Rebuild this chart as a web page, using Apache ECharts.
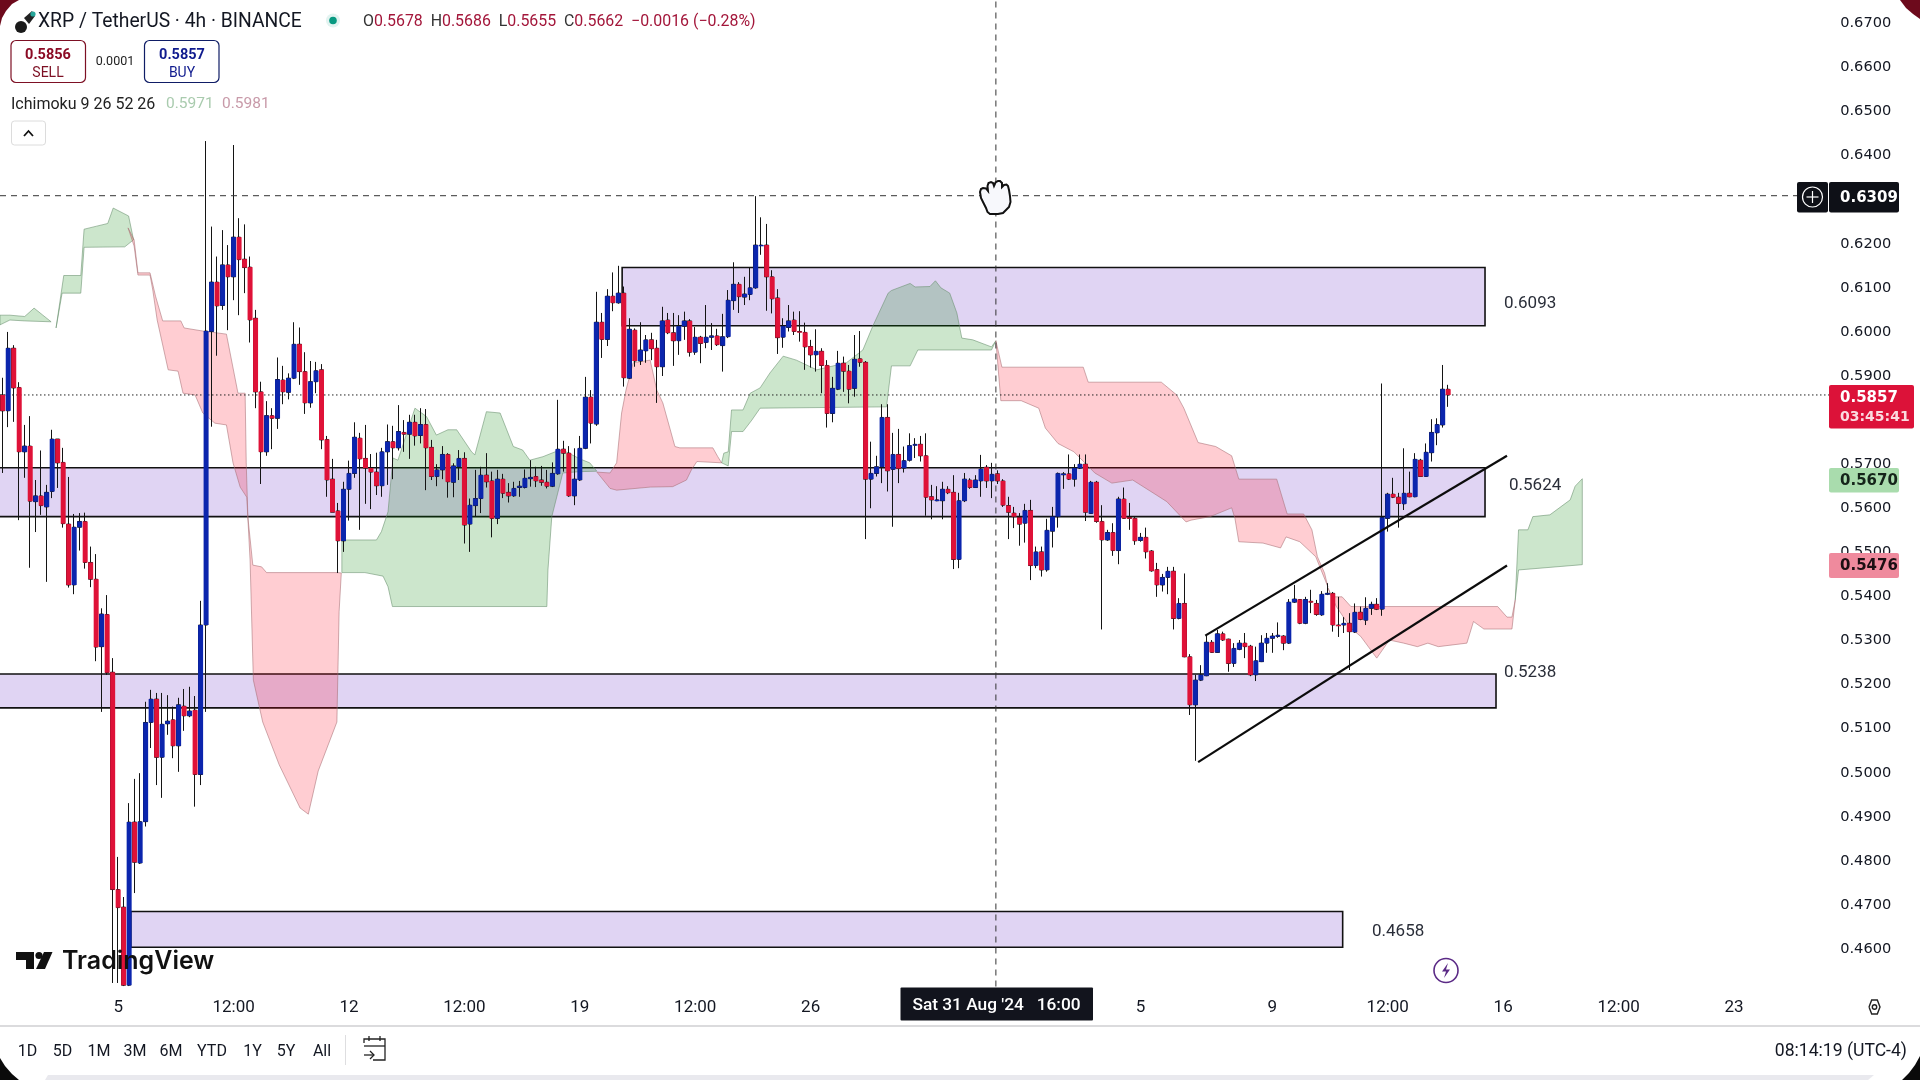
<!DOCTYPE html>
<html><head><meta charset="utf-8"><title>XRP / TetherUS 4h</title>
<style>html,body{margin:0;padding:0;background:#fff;overflow:hidden}#c{width:1920px;height:1080px}</style>
<script src="https://cdn.jsdelivr.net/npm/echarts@6/dist/echarts.min.js"></script></head><body><div id="c"></div>
<script>
const opens=[0.5857,0.5821,0.5963,0.5874,0.5728,0.5741,0.5615,0.5628,0.5603,0.5638,0.5757,0.5704,0.5564,0.5426,0.5557,0.5570,0.5477,0.5439,0.5286,0.5359,0.5228,0.4735,0.4695,0.4518,0.4888,0.4795,0.4889,0.5114,0.5167,0.5035,0.5111,0.5120,0.5061,0.5151,0.5129,0.5142,0.4996,0.5335,0.6001,0.6113,0.6060,0.6152,0.6125,0.6215,0.6165,0.6147,0.6031,0.5864,0.5728,0.5810,0.5804,0.5891,0.5863,0.5895,0.5972,0.5910,0.5839,0.5887,0.5914,0.5756,0.5666,0.5594,0.5526,0.5643,0.5679,0.5759,0.5713,0.5691,0.5682,0.5651,0.5728,0.5751,0.5737,0.5772,0.5768,0.5795,0.5765,0.5790,0.5738,0.5672,0.5687,0.5722,0.5659,0.5694,0.5713,0.5564,0.5606,0.5622,0.5675,0.5662,0.5577,0.5666,0.5636,0.5628,0.5647,0.5647,0.5667,0.5672,0.5664,0.5659,0.5650,0.5678,0.5734,0.5725,0.5628,0.5664,0.5736,0.5852,0.5791,0.6022,0.5983,0.6081,0.6066,0.6088,0.5895,0.6004,0.5934,0.5957,0.5982,0.5963,0.5921,0.6027,0.5998,0.5980,0.6013,0.6025,0.5954,0.5988,0.5976,0.5988,0.5991,0.5969,0.5989,0.6071,0.6108,0.6079,0.6085,0.6100,0.6196,0.6197,0.6125,0.6077,0.5988,0.6010,0.6027,0.6001,0.5999,0.5967,0.5948,0.5956,0.5924,0.5815,0.5870,0.5929,0.5911,0.5872,0.5939,0.5931,0.5666,0.5679,0.5694,0.5806,0.5688,0.5722,0.5691,0.5709,0.5743,0.5745,0.5719,0.5626,0.5617,0.5617,0.5643,0.5636,0.5484,0.5617,0.5664,0.5647,0.5662,0.5693,0.5662,0.5678,0.5662,0.5606,0.5589,0.5579,0.5566,0.5595,0.5470,0.5501,0.5460,0.5548,0.5581,0.5676,0.5678,0.5666,0.5691,0.5700,0.5588,0.5659,0.5570,0.5528,0.5545,0.5504,0.5621,0.5579,0.5577,0.5527,0.5534,0.5503,0.5461,0.5426,0.5443,0.5457,0.5350,0.5384,0.5263,0.5154,0.5210,0.5220,0.5296,0.5273,0.5315,0.5303,0.5248,0.5280,0.5294,0.5287,0.5222,0.5252,0.5294,0.5305,0.5309,0.5310,0.5294,0.5387,0.5393,0.5339,0.5389,0.5384,0.5358,0.5405,0.5407,0.5335,0.5335,0.5339,0.5319,0.5364,0.5346,0.5373,0.5382,0.5371,0.5577,0.5632,0.5625,0.5610,0.5634,0.5626,0.5709,0.5672,0.5726,0.5771,0.5789,0.5870];
const closes=[0.5821,0.5963,0.5873,0.5728,0.5741,0.5616,0.5628,0.5606,0.5636,0.5757,0.5703,0.5565,0.5426,0.5557,0.5570,0.5477,0.5439,0.5285,0.5360,0.5227,0.4735,0.4694,0.4518,0.4888,0.4797,0.4889,0.5114,0.5167,0.5035,0.5110,0.5117,0.5061,0.5154,0.5129,0.5140,0.4996,0.5335,0.6002,0.6113,0.6059,0.6152,0.6125,0.6215,0.6164,0.6146,0.6027,0.5864,0.5728,0.5810,0.5804,0.5892,0.5864,0.5895,0.5972,0.5910,0.5839,0.5887,0.5912,0.5755,0.5664,0.5591,0.5526,0.5643,0.5679,0.5761,0.5712,0.5691,0.5682,0.5651,0.5728,0.5751,0.5737,0.5774,0.5768,0.5795,0.5764,0.5790,0.5737,0.5672,0.5687,0.5722,0.5660,0.5696,0.5713,0.5562,0.5607,0.5622,0.5675,0.5660,0.5577,0.5666,0.5634,0.5628,0.5645,0.5650,0.5668,0.5670,0.5662,0.5659,0.5650,0.5679,0.5734,0.5725,0.5628,0.5666,0.5736,0.5852,0.5793,0.6022,0.5983,0.6081,0.6066,0.6088,0.5896,0.6006,0.5934,0.5959,0.5982,0.5962,0.5921,0.6025,0.5998,0.5980,0.6013,0.6025,0.5954,0.5988,0.5974,0.5988,0.5991,0.5971,0.5989,0.6072,0.6108,0.6080,0.6086,0.6100,0.6197,0.6197,0.6125,0.6075,0.5987,0.6013,0.6025,0.6001,0.6000,0.5966,0.5948,0.5956,0.5924,0.5815,0.5872,0.5929,0.5911,0.5870,0.5938,0.5931,0.5666,0.5679,0.5694,0.5806,0.5685,0.5722,0.5690,0.5708,0.5742,0.5745,0.5719,0.5625,0.5619,0.5619,0.5643,0.5635,0.5484,0.5617,0.5666,0.5647,0.5664,0.5689,0.5662,0.5677,0.5662,0.5607,0.5591,0.5581,0.5564,0.5595,0.5470,0.5501,0.5460,0.5550,0.5581,0.5679,0.5678,0.5666,0.5691,0.5700,0.5591,0.5659,0.5570,0.5528,0.5545,0.5504,0.5621,0.5577,0.5577,0.5526,0.5534,0.5501,0.5458,0.5426,0.5443,0.5457,0.5350,0.5384,0.5263,0.5154,0.5210,0.5222,0.5296,0.5273,0.5315,0.5301,0.5248,0.5282,0.5294,0.5286,0.5222,0.5254,0.5294,0.5305,0.5310,0.5312,0.5294,0.5387,0.5394,0.5339,0.5393,0.5387,0.5359,0.5405,0.5407,0.5335,0.5334,0.5339,0.5320,0.5364,0.5348,0.5373,0.5382,0.5371,0.5579,0.5632,0.5625,0.5611,0.5634,0.5626,0.5711,0.5672,0.5727,0.5772,0.5790,0.5870,0.5857];
const highs=[0.5896,0.6000,0.5970,0.5886,0.5789,0.5809,0.5664,0.5731,0.5653,0.5778,0.5757,0.5737,0.5671,0.5587,0.5589,0.5590,0.5513,0.5496,0.5373,0.5403,0.5260,0.4809,0.4718,0.4931,0.4986,0.4999,0.5161,0.5188,0.5181,0.5181,0.5176,0.5150,0.5170,0.5190,0.5195,0.5174,0.5390,0.6433,0.6239,0.6171,0.6231,0.6197,0.6424,0.6258,0.6244,0.6171,0.6050,0.5887,0.5843,0.5827,0.5942,0.5923,0.5906,0.6022,0.6010,0.5954,0.5934,0.5932,0.5927,0.5764,0.5712,0.5612,0.5660,0.5708,0.5795,0.5771,0.5789,0.5723,0.5726,0.5737,0.5790,0.5787,0.5834,0.5800,0.5812,0.5812,0.5827,0.5825,0.5755,0.5700,0.5741,0.5725,0.5702,0.5732,0.5727,0.5622,0.5687,0.5694,0.5725,0.5683,0.5687,0.5678,0.5657,0.5660,0.5662,0.5688,0.5709,0.5694,0.5696,0.5687,0.5704,0.5846,0.5753,0.5741,0.5736,0.5764,0.5898,0.5868,0.6091,0.6043,0.6097,0.6135,0.6150,0.6103,0.6031,0.6008,0.6022,0.5993,0.5998,0.5982,0.6057,0.6043,0.6043,0.6038,0.6046,0.6029,0.6011,0.5991,0.6061,0.6020,0.6007,0.6041,0.6095,0.6158,0.6113,0.6125,0.6145,0.6308,0.6260,0.6245,0.6140,0.6097,0.6031,0.6061,0.6046,0.6047,0.6021,0.5982,0.6006,0.5963,0.5936,0.5898,0.5957,0.5944,0.5925,0.5993,0.6002,0.5934,0.5751,0.5719,0.5836,0.5836,0.5771,0.5780,0.5740,0.5770,0.5759,0.5764,0.5770,0.5653,0.5650,0.5660,0.5650,0.5675,0.5635,0.5680,0.5668,0.5675,0.5721,0.5698,0.5703,0.5686,0.5666,0.5626,0.5603,0.5589,0.5610,0.5619,0.5513,0.5513,0.5576,0.5603,0.5681,0.5682,0.5722,0.5700,0.5722,0.5722,0.5662,0.5662,0.5607,0.5551,0.5566,0.5626,0.5647,0.5612,0.5580,0.5544,0.5556,0.5505,0.5476,0.5451,0.5467,0.5467,0.5396,0.5452,0.5269,0.5222,0.5244,0.5311,0.5301,0.5324,0.5320,0.5304,0.5294,0.5301,0.5317,0.5290,0.5286,0.5312,0.5317,0.5317,0.5341,0.5312,0.5394,0.5426,0.5394,0.5399,0.5415,0.5392,0.5412,0.5430,0.5410,0.5399,0.5353,0.5362,0.5384,0.5377,0.5398,0.5388,0.5396,0.5883,0.5635,0.5669,0.5635,0.5736,0.5683,0.5725,0.5712,0.5747,0.5802,0.5804,0.5925,0.5880];
const lows=[0.5680,0.5784,0.5796,0.5573,0.5669,0.5465,0.5546,0.5585,0.5433,0.5623,0.5646,0.5556,0.5420,0.5405,0.5504,0.5463,0.5421,0.5253,0.5138,0.5222,0.4523,0.4523,0.4516,0.4516,0.4727,0.4793,0.4878,0.5056,0.4972,0.4943,0.5086,0.5033,0.5002,0.5095,0.5126,0.4923,0.4972,0.5138,0.5785,0.5946,0.6050,0.6004,0.6072,0.6038,0.6088,0.5976,0.5827,0.5655,0.5719,0.5734,0.5780,0.5836,0.5847,0.5893,0.5880,0.5814,0.5828,0.5861,0.5734,0.5626,0.5591,0.5453,0.5501,0.5572,0.5669,0.5551,0.5610,0.5598,0.5630,0.5626,0.5653,0.5666,0.5731,0.5728,0.5712,0.5742,0.5747,0.5641,0.5664,0.5650,0.5666,0.5624,0.5625,0.5664,0.5520,0.5501,0.5581,0.5589,0.5647,0.5534,0.5564,0.5623,0.5613,0.5626,0.5626,0.5645,0.5649,0.5648,0.5651,0.5645,0.5648,0.5676,0.5683,0.5626,0.5607,0.5662,0.5734,0.5747,0.5787,0.5941,0.5968,0.6047,0.6064,0.5876,0.5893,0.5921,0.5925,0.5930,0.5936,0.5839,0.5900,0.5995,0.5923,0.5948,0.5982,0.5944,0.5948,0.5929,0.5963,0.5959,0.5968,0.5910,0.5986,0.6050,0.6043,0.6061,0.6072,0.6098,0.6175,0.6048,0.6042,0.5950,0.5964,0.6001,0.5993,0.5978,0.5914,0.5919,0.5910,0.5861,0.5783,0.5795,0.5868,0.5864,0.5838,0.5853,0.5921,0.5530,0.5600,0.5672,0.5657,0.5638,0.5558,0.5657,0.5681,0.5706,0.5714,0.5706,0.5583,0.5575,0.5616,0.5575,0.5632,0.5462,0.5464,0.5614,0.5644,0.5646,0.5626,0.5646,0.5623,0.5655,0.5603,0.5530,0.5555,0.5515,0.5522,0.5437,0.5464,0.5445,0.5456,0.5511,0.5556,0.5644,0.5664,0.5649,0.5689,0.5571,0.5587,0.5567,0.5325,0.5526,0.5492,0.5473,0.5576,0.5551,0.5517,0.5524,0.5486,0.5456,0.5399,0.5411,0.5405,0.5325,0.5348,0.5262,0.5131,0.5027,0.5208,0.5219,0.5272,0.5272,0.5299,0.5229,0.5240,0.5278,0.5260,0.5219,0.5208,0.5251,0.5272,0.5272,0.5306,0.5278,0.5292,0.5385,0.5337,0.5337,0.5362,0.5356,0.5356,0.5403,0.5320,0.5308,0.5317,0.5233,0.5317,0.5346,0.5335,0.5358,0.5369,0.5356,0.5547,0.5623,0.5556,0.5596,0.5625,0.5625,0.5671,0.5671,0.5706,0.5743,0.5783,0.5830];

const tickBars=[21,42,63,84,105,126,147,207,231,252,273,294,315];
const tickTexts=['5','12:00','12','12:00','19','12:00','26','5','9','12:00','16','12:00','23'];
const BAR_SLOTS=333;

// Ichimoku cloud outlines: [bar position, price]
const cloudGreen=[
[[-0.5,.6038],[1.3,.6038],[4,.6035],[5.7,.6054],[7.3,.6038],[8.8,.6023],[4,.6025],[1.3,.6027],[-0.5,.6016]],
[[9.7,.6009],[11.1,.6128],[14.2,.6128],[14.8,.6233],[17.1,.6240],[19.1,.6246],[20.1,.6281],[22.9,.6263],[23.8,.6209],[22.2,.6193],[14.8,.6192],[14.2,.6088],[10.8,.6088]],
[[61.7,.5528],[68,.5528],[68.9,.5547],[70.1,.5592],[71,.5714],[71.9,.5709],[75,.5827],[77.1,.5808],[78.9,.5766],[81,.5778],[82.6,.5778],[85.3,.5728],[85.9,.5721],[88,.5819],[90.5,.5816],[92.9,.5740],[94.6,.5732],[95.9,.5709],[98.3,.5717],[100.5,.5728],[101.9,.5732],[105,.5712],[106.8,.5703],[108.1,.5684],[105,.5683],[101.9,.5680],[99.9,.5581],[99.2,.5460],[99,.5377],[70.9,.5377],[70.1,.5422],[69.2,.5446],[65.9,.5454],[61.7,.5454]],
[[130.8,.5703],[131.2,.5725],[132,.5728],[132.6,.5823],[134.7,.5823],[136,.5861],[137.8,.5873],[139.6,.5907],[142,.5945],[144.4,.5936],[148.1,.5914],[153.5,.5930],[156.5,.5959],[158.3,.6013],[161.1,.6088],[161.7,.6094],[165.1,.6110],[166,.6102],[168.7,.6103],[169.7,.6116],[170.7,.6100],[172.3,.6088],[173.6,.6043],[174.5,.5986],[176.5,.5982],[179.9,.5966],[180.7,.5980],[179.9,.5959],[166.5,.5959],[165.1,.5923],[161.7,.5923],[160.8,.5830],[137.8,.5827],[136.3,.5800],[134.7,.5774],[132.6,.5774],[132,.5696]],
[[275.2,.5392],[275.8,.5551],[277.5,.5551],[278.4,.5581],[281.5,.5585],[285.2,.5619],[286.1,.5650],[287.4,.5667],[287.4,.5472],[275.8,.5460]]
];
const cloudRed=[
[[22.8,.6236],[23.9,.6209],[24.6,.6134],[26.8,.6134],[27.8,.6081],[29.1,.6025],[32.4,.6025],[33,.6009],[36.4,.6002],[40.7,.5995],[42.8,.5861],[44.1,.5861],[44.3,.5703],[44.6,.5580],[45.5,.5471],[47.1,.5467],[48,.5454],[61,.5454],[61.6,.5453],[61.2,.5365],[60.8,.5115],[57.4,.5004],[55.6,.4906],[54.1,.4920],[50.3,.5018],[47.3,.5115],[45.6,.5210],[45,.5483],[44.4,.5625],[43.2,.5648],[41.9,.5703],[40.7,.5789],[38.6,.5793],[36.4,.5816],[35,.5857],[32.8,.5861],[31.9,.5911],[30.1,.5914],[28.1,.6027],[27.3,.6095],[26.8,.6129],[24.6,.6129],[23.9,.6195]],
[[108.1,.5682],[110.5,.5680],[111.7,.5703],[112.6,.5816],[113.4,.5868],[114.7,.5930],[117.8,.5936],[119,.5868],[120.1,.5839],[122.3,.5740],[123.2,.5737],[129.2,.5737],[130.1,.5717],[130.8,.5703],[126.3,.5706],[125.3,.5687],[124.4,.5664],[121.9,.5649],[117.8,.5648],[111.7,.5641],[110.5,.5645]],
[[180.7,.5980],[181.8,.5920],[196.6,.5920],[197.5,.5886],[210.8,.5886],[213.6,.5857],[214.9,.5827],[217.5,.5749],[220.7,.5740],[223.6,.5719],[224.9,.5666],[231.8,.5666],[233.7,.5587],[236.7,.5587],[238.2,.5551],[239.2,.5490],[240.5,.5453],[241.1,.5422],[238.9,.5490],[236,.5524],[233.5,.5535],[232.5,.5510],[229.3,.5521],[224.9,.5524],[224.2,.5577],[223.6,.5601],[219.7,.5581],[216.2,.5573],[215.3,.5569],[211.8,.5615],[208.9,.5638],[205.6,.5664],[201.8,.5657],[198.7,.5680],[194.9,.5728],[192,.5747],[189.7,.5782],[188.5,.5827],[185.3,.5844],[181.6,.5844]],
[[241.1,.5420],[241.8,.5399],[243.7,.5399],[245.3,.5377],[272,.5377],[273.7,.5353],[274.6,.5353],[275.2,.5392],[274.6,.5326],[269.5,.5326],[267.6,.5343],[266.4,.5294],[261.2,.5286],[259.3,.5294],[257.4,.5286],[254.9,.5294],[252.3,.5301],[250,.5260],[247.1,.5309],[245.3,.5328],[242.6,.5378]]
];
// Supply/demand zones: [left bar, right bar, top price, bottom price]
const zones=[[112.7,269.7,.6146,.6014],[-3,269.7,.5692,.5581],[-3,271.7,.5224,.5147],[23.3,243.8,.4685,.4604]];
const zoneLabels=['0.6093','0.5624','0.5238','0.4658'];
// Drawn channel lines
const channelUpper=[[218.8,.5311],[273.7,.5719]];
const channelLower=[[217.5,.5024],[273.7,.5470]];
// Crosshair and last price
const crossBar=180.7, crossPrice=.6309, lastPrice=.5857;
const rangeButtons=['1D','5D','1M','3M','6M','YTD','1Y','5Y','All'];

const BLUE='#0b25ad', RED='#df1238', WICK='#141414';
const categories=Array.from({length:BAR_SLOTS},(_,i)=>{const k=tickBars.indexOf(i);return k<0?'':tickTexts[k];});
const ohlc=opens.map((o,i)=>[o,closes[i],lows[i],highs[i]]);
const bodies=opens.map((o,i)=>[i,o,closes[i]]);

const FONT='Roboto, sans-serif';
const TEXT_NUDGE=1.5;
const txt=(x,y,t,size,fill,opt={})=>({type:'text',z:20,silent:true,style:Object.assign({x,y:y+TEXT_NUDGE,text:t,font:`${opt.weight||400} ${size}px ${opt.family||FONT}`,fill,textAlign:opt.align||'left',textVerticalAlign:'middle'},opt.extra||{})});
const box=(x,y,w,h,fill,stroke,r,lw)=>({type:'rect',z:19,silent:true,shape:{x,y,width:w,height:h,r:r||0},style:{fill:fill||'none',stroke:stroke||'none',lineWidth:lw||1}});
const circ=(cx,cy,r,fill,stroke,lw,z)=>({type:'circle',z:z||20,silent:true,shape:{cx,cy,r},style:{fill:fill||'none',stroke:stroke||'none',lineWidth:lw||1}});
const shape=(pts,fill,stroke,lw,z)=>fill?({type:'polygon',z:z||20,silent:true,shape:{points:pts},style:{fill,stroke:stroke||'none',lineWidth:lw||1}}):({type:'polyline',z:z||20,silent:true,shape:{points:pts},style:{fill:'none',stroke,lineWidth:lw||1}});
const seg=(x1,y1,x2,y2,stroke,lw,z)=>({type:'line',z:z||20,silent:true,shape:{x1,y1,x2,y2},style:{stroke,lineWidth:lw||1}});

const buttonX=[27.4,62.5,99,135,171,212,252.5,286,322];
const graphics=[
 // device corners
 shape([[0,0],[19,0],[12,4],[6,11],[2,18],[0,26]],'#6d0a1c'),
 shape([[1900,0],[1920,0],[1920,19],[1913,14],[1906,8]],'#6d0a1c'),
 shape([[0,1058],[5,1066],[12,1074],[19,1080],[0,1080]],'#0a0a0a'),
 shape([[1920,1056],[1920,1080],[1902,1080],[1909,1073],[1915,1065]],'#0a0a0a'),
 // header
 circ(21,27,6,'#1a1a1a'),
 shape([[24,18],[32,11],[35,16],[29,24]],'#222'),
 circ(33,14,2.6,'#26a69a',null,1,21),
 txt(38,21,'XRP / TetherUS · 4h · BINANCE',19.3,'#131722'),
 circ(333,20.5,7,'#e2f3f0'),
 circ(333,20.5,3.8,'#089981',null,1,21),
 {type:'text',z:20,silent:true,style:{x:363,y:22,textVerticalAlign:'middle',font:`400 15.9px ${FONT}`,text:'{k|O}{v|0.5678}  {k|H}{v|0.5686}  {k|L}{v|0.5655}  {k|C}{v|0.5662}  {v|−0.0016 (−0.28%)}',rich:{k:{fill:'#333',font:`400 15.9px ${FONT}`},v:{fill:'#a3163a',font:`400 15.9px ${FONT}`}}}},
 box(11,40.5,74.5,42,'#fff','#7d1024',5,1.2),
 txt(48,54,'0.5856',14.5,'#8b0a24',{align:'center',weight:700}),
 txt(48,71.5,'SELL',14,'#7d1024',{align:'center'}),
 txt(115,60.5,'0.0001',12.5,'#222',{align:'center'}),
 box(144.5,40.5,74.5,42,'#fff','#0f1d66',5,1.2),
 txt(182,54,'0.5857',14.5,'#101b8e',{align:'center',weight:700}),
 txt(182,71.5,'BUY',14,'#101b8e',{align:'center'}),
 txt(11,103,'Ichimoku 9 26 52 26',16,'#222'),
 txt(166,103,'0.5971',15.5,'#a9cbae'),
 txt(222,103,'0.5981',15.5,'#c89aa9'),
 box(11.5,121,34,24,'#fff','#dcdcdc',3,1),
 shape([[24,136],[28.5,131],[33,136]],null,'#111',1.8),
 // axis-side price tags
 box(1797,182,31,30.5,'#0e1017',null,2),
 circ(1812.5,197,10,null,'#fff',1.2,21),
 seg(1806.5,197,1818.5,197,'#fff',1.2,21),
 seg(1812.5,191,1812.5,203,'#fff',1.2,21),
 box(1829,182,70,30.5,'#0e1017',null,2),
 txt(1840,197,'0.6309',15,'#fff',{family:'DejaVu Sans',weight:700}),
 box(1829,385,85,43.5,'#dc1239',null,2),
 txt(1840,397,'0.5857',15,'#fff',{family:'DejaVu Sans',weight:700}),
 txt(1840,416,'03:45:41',14,'#fbdbe0',{family:'DejaVu Sans',weight:700}),
 box(1829,468,70,24.5,'#a9dcad',null,2),
 txt(1840,479.5,'0.5670',15,'#15241a',{family:'DejaVu Sans',weight:700}),
 box(1829,553,70,25,'#ef8a9d',null,2),
 txt(1840,564.5,'0.5476',15,'#1c0f13',{family:'DejaVu Sans',weight:700}),
 // zone value labels
 txt(1504,302.5,zoneLabels[0],17,'#2a2e39'),
 txt(1509,484,zoneLabels[1],17,'#2a2e39'),
 txt(1504,671.5,zoneLabels[2],17,'#2a2e39'),
 txt(1372,930,zoneLabels[3],17,'#2a2e39'),
 // TradingView logo
 shape([[16,952],[34,952],[34,969],[26,969],[26,960],[16,960]],'#111'),
 circ(39,955.5,3.6,'#111'),
 shape([[44,952],[52.5,952],[45,969],[36,969]],'#111'),
 txt(62,960,'TradingView',25,'#111',{weight:600,family:'Inter, Roboto'}),
 // lightning badge
 circ(1446,970.5,12,'#fff','#5b2a86',1.6),
 shape([[1448,963],[1442,971.5],[1446,971.5],[1444,978],[1450,969.5],[1446,969.5]],'#5b2a86',null,1,21),
 // crosshair hand
 shape([[984,204],[981,198],[980,192],[981,189],[983,188],[986,188.5],[988,191],[987.5,186],[988.5,183],[991,182],[993,183],[994,186],[995.5,182.5],[998,181],[1000,181],[1002,183],[1002,187],[1004,185],[1006.5,184.5],[1008,186],[1009,190],[1010,196],[1010.5,202],[1009,207],[1006,210],[1003,213],[998,214],[990,214],[987.5,212],[986,208]],'#f7f8fc','#111',2,22),
 // time tag
 box(900.5,987.5,192.5,33,'#12141d',null,1),
 txt(996.5,1004,"Sat 31 Aug '24   16:00",17.3,'#fff',{align:'center',weight:500}),
 // settings icon
 shape([[1869,1007],[1871.7,1000],[1877.3,1000],[1880,1007],[1877.3,1014],[1871.7,1014],[1869,1007]],null,'#222',1.4),
 circ(1874.5,1007,2.2,null,'#222',1.4),
 // bottom bar
 seg(0,1026,1920,1026,'#cfcfd2',1.4,19),
 seg(345.5,1035,345.5,1065,'#dedee0',1,19),
 shape([[364,1043],[364,1039],[385,1039],[385,1060],[373,1060]],null,'#222',1.3),
 seg(364,1046,385,1046,'#222',1.3),
 seg(369,1036,369,1041,'#222',1.3),
 seg(380,1036,380,1041,'#222',1.3),
 seg(364,1055,374,1055,'#222',1.3),
 shape([[370,1051],[374,1055],[370,1059]],null,'#222',1.3),
 ...rangeButtons.map((t,i)=>txt(buttonX[i],1050.5,t,16,'#131722',{align:'center'})),
 txt(1907,1050.5,'08:14:19 (UTC-4)',17.6,'#131722',{align:'right'}),
 shape([[45,1080],[48,1075],[1874,1075],[1868,1080]],'#e9e9ee',null,1,18)
];

const Y_MIN=0.45, Y_MAX=0.6753, PX_PER_PRICE=4408;
const option={
 animation:false,backgroundColor:'#fff',
 grid:{left:0,top:0,width:BAR_SLOTS*5.496,height:(Y_MAX-Y_MIN)*PX_PER_PRICE,containLabel:false,show:false},
 xAxis:[
  {type:'category',data:categories,boundaryGap:true,axisLine:{show:false},axisTick:{show:false},splitLine:{show:false},
   axisLabel:{interval:(i,v)=>v!=='',hideOverlap:false,color:'#131722',fontFamily:'Roboto',fontSize:17,margin:6}},
  {type:'value',min:-0.5,max:BAR_SLOTS-0.5,show:false,splitLine:{show:false}}
 ],
 yAxis:{type:'value',position:'right',min:Y_MIN,max:Y_MAX,interval:0.01,axisLine:{show:false},axisTick:{show:false},splitLine:{show:false},
  axisLabel:{margin:10,color:'#131722',fontFamily:'DejaVu Sans',fontSize:14.6,fontWeight:500,align:'left',padding:[3,0,0,0],showMinLabel:false,showMaxLabel:false,
   formatter:v=>(v<0.455||v>0.675)?'':v.toFixed(4)}},
 series:[
  {name:'Zones',type:'custom',coordinateSystem:'cartesian2d',xAxisIndex:1,yAxisIndex:0,z:1,clip:true,silent:true,
   data:zones,encode:{x:[0,1],y:[2,3]},
   renderItem:(p,api)=>{const a=api.coord([api.value(0),api.value(2)]),b=api.coord([api.value(1),api.value(3)]);
     return {type:'rect',shape:{x:a[0],y:a[1],width:b[0]-a[0],height:b[1]-a[1]},style:{fill:'#e0d4f3',stroke:'#111',lineWidth:1.6}};}},
  ...[['Cloud green',cloudGreen,'rgba(0,130,0,0.2)','rgba(100,140,105,.55)'],['Cloud red',cloudRed,'rgba(255,5,30,0.2)','rgba(165,110,115,.55)']].map(([name,patches,fill,stroke])=>({
   name,type:'custom',coordinateSystem:'cartesian2d',xAxisIndex:1,yAxisIndex:0,z:2,clip:true,silent:true,
   data:patches.map((_,k)=>[k,.6]),encode:{x:0,y:1},
   renderItem:(p,api)=>{const k=api.value(0);
     return {type:'polygon',shape:{points:patches[k].map(v=>api.coord(v))},style:{fill,stroke,lineWidth:1}};}})),
  {name:'XRP/USDT',type:'candlestick',xAxisIndex:0,yAxisIndex:0,z:5,barWidth:4,data:ohlc,silent:true,clip:true,
   itemStyle:{color:BLUE,color0:RED,borderColor:WICK,borderColor0:WICK,borderWidth:1}},
  {name:'Bodies',type:'custom',coordinateSystem:'cartesian2d',xAxisIndex:0,yAxisIndex:0,z:6,clip:true,silent:true,
   data:bodies,encode:{x:0,y:[1,2]},
   renderItem:(p,api)=>{const o=api.value(1),c=api.value(2),a=api.coord([api.value(0),Math.max(o,c)]),b=api.coord([api.value(0),Math.min(o,c)]);
     return {type:'rect',shape:{x:a[0]-2.5,y:a[1],width:5,height:Math.max(b[1]-a[1],1.2)},style:{fill:c>=o?BLUE:RED}};}},
  ...[channelUpper,channelLower].map((d,k)=>({name:'Channel '+(k+1),type:'line',xAxisIndex:1,yAxisIndex:0,z:8,silent:true,symbol:'none',data:d,lineStyle:{color:'#0c0c0c',width:2.2}})),
  {name:'Crosshair H',type:'line',xAxisIndex:1,yAxisIndex:0,z:9,silent:true,symbol:'none',data:[[-0.5,crossPrice],[326.5,crossPrice]],lineStyle:{color:'#333',width:1,type:[6,5]}},
  {name:'Crosshair V',type:'line',xAxisIndex:1,yAxisIndex:0,z:9,silent:true,symbol:'none',data:[[crossBar,.4515],[crossBar,.6753]],lineStyle:{color:'#333',width:1,type:[6,5]}},
  {name:'Last price',type:'line',xAxisIndex:1,yAxisIndex:0,z:3,silent:true,symbol:'none',data:[[-0.5,lastPrice],[BAR_SLOTS-0.5,lastPrice]],lineStyle:{color:'#222',width:1,type:[1.5,2.5]}}
 ],
 graphic:{elements:graphics}
};
const chart=echarts.init(document.getElementById('c'),null,{renderer:'canvas',width:1920,height:1080});
chart.setOption(option);
</script></body></html>
